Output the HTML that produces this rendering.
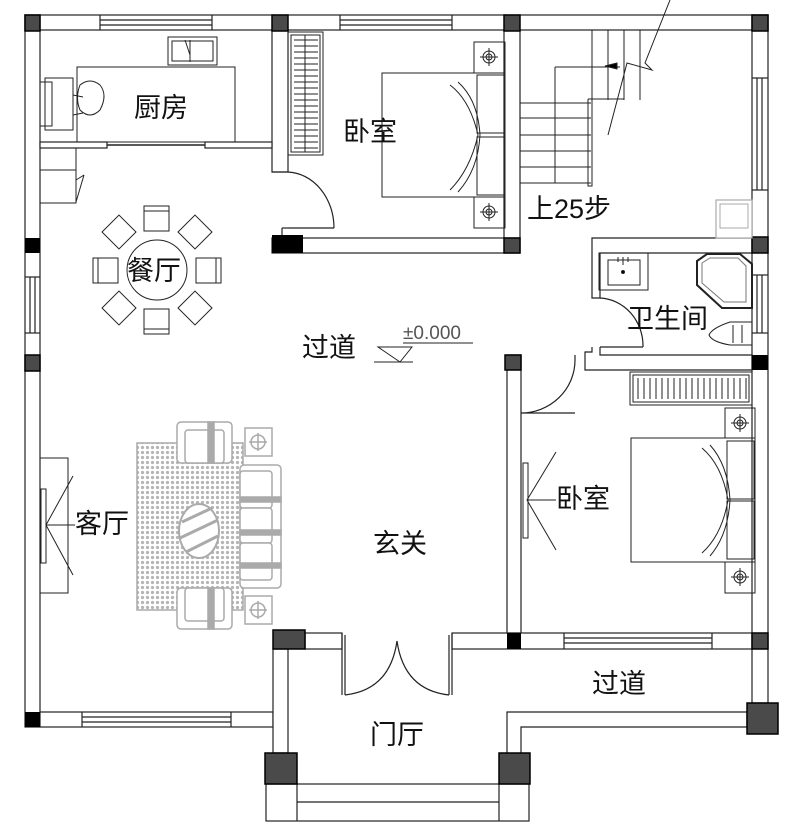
<!DOCTYPE html>
<html><head><meta charset="utf-8"><style>
html,body{margin:0;padding:0;background:#fff;}
svg{display:block;}
text{font-family:"Liberation Sans","Noto Sans CJK SC",sans-serif;fill:#111;}
</style></head><body>
<svg width="789" height="835" viewBox="0 0 789 835" xmlns="http://www.w3.org/2000/svg">
<defs>
<pattern id="dots" width="5" height="5" patternUnits="userSpaceOnUse">
<rect width="5" height="5" fill="#fff"/>
<circle cx="2.5" cy="2.5" r="1.6" fill="#b5b5b5"/>
</pattern>
</defs>
<g fill="none" stroke="#222" stroke-width="1.2">
<rect x="25" y="15" width="743" height="15" fill="#fff"/>
<rect x="25" y="15" width="15" height="712" fill="#fff"/>
<rect x="752" y="15" width="16" height="688" fill="#fff"/>
<rect x="40" y="712" width="233" height="15" fill="#fff"/>
<line x1="100" y1="20" x2="212" y2="20"/><line x1="100" y1="25" x2="212" y2="25"/>
<line x1="100" y1="15" x2="100" y2="30"/><line x1="212" y1="15" x2="212" y2="30"/>
<line x1="340" y1="20" x2="452" y2="20"/><line x1="340" y1="25" x2="452" y2="25"/>
<line x1="340" y1="15" x2="340" y2="30"/><line x1="452" y1="15" x2="452" y2="30"/>
<line x1="757" y1="78" x2="757" y2="190"/><line x1="762" y1="78" x2="762" y2="190"/>
<line x1="752" y1="78" x2="768" y2="78"/><line x1="752" y1="190" x2="768" y2="190"/>
<line x1="757" y1="275" x2="757" y2="333"/><line x1="762" y1="275" x2="762" y2="333"/>
<line x1="752" y1="275" x2="768" y2="275"/><line x1="752" y1="333" x2="768" y2="333"/>
<line x1="30" y1="277" x2="30" y2="333"/><line x1="35" y1="277" x2="35" y2="333"/>
<line x1="25" y1="277" x2="40" y2="277"/><line x1="25" y1="333" x2="40" y2="333"/>
<line x1="82" y1="717" x2="231" y2="717"/><line x1="82" y1="722" x2="231" y2="722"/>
<line x1="82" y1="712" x2="82" y2="727"/><line x1="231" y1="712" x2="231" y2="727"/>

<rect x="272" y="30" width="16" height="142" fill="#fff"/>
<line x1="272" y1="172" x2="288" y2="172"/>
<path d="M288 172 A48 56 0 0 1 334 228"/>
<line x1="288" y1="228" x2="334" y2="228"/><line x1="282" y1="228" x2="288" y2="228"/><line x1="282" y1="228" x2="282" y2="235"/>
<rect x="272" y="238" width="248" height="15" fill="#fff"/>
<rect x="40" y="142" width="67" height="6" fill="#fff"/>
<rect x="205" y="142" width="67" height="6" fill="#fff"/>
<line x1="107" y1="145" x2="205" y2="145" stroke-width="1.6"/>
<rect x="504" y="30" width="16" height="208" fill="#fff"/>

<path d="M592 298 L592 238 L752 238 L752 253 L600 253 L600 298 Z" fill="#fff"/>
<path d="M600 298 A45 48 0 0 1 643 347"/>
<line x1="600" y1="347" x2="643" y2="347"/>
<path d="M592 347 L592 352 L585 352 L585 370 L752 370 L752 355 L600 355 L600 347"/>
<rect x="507" y="355" width="14" height="278" fill="#fff"/>
<path d="M521 413 L575 413 M521 413 A54 53 0 0 0 575 360 L575 355" />
<rect x="305" y="633" width="37" height="16" fill="#fff"/>
<rect x="452" y="633" width="300" height="16" fill="#fff"/>
<line x1="564" y1="638" x2="712" y2="638"/><line x1="564" y1="643" x2="712" y2="643"/>
<line x1="564" y1="633" x2="564" y2="649"/><line x1="712" y1="633" x2="712" y2="649"/>
<line x1="342" y1="633" x2="342" y2="695"/><line x1="345" y1="635" x2="345" y2="695"/>
<line x1="452" y1="633" x2="452" y2="695"/><line x1="449" y1="635" x2="449" y2="695"/>
<path d="M345 695 Q390 690 397 641"/><path d="M449 695 Q404 690 397 641"/>
<rect x="273" y="649" width="15" height="104" fill="#fff"/>
<path d="M507 753 L507 712 L747 712 L747 727 L521 727 L521 753" fill="#fff"/>
<rect x="266" y="784" width="263" height="37" fill="#fff"/>
<line x1="297" y1="802" x2="499" y2="802"/>
<line x1="297" y1="784" x2="297" y2="821"/><line x1="499" y1="784" x2="499" y2="821"/>
</g>

<g fill="#4a4a4a" stroke="#000" stroke-width="1.5">
<rect x="25" y="15" width="15" height="16"/>
<rect x="272" y="15" width="16" height="16"/>
<rect x="504" y="15" width="16" height="16"/>
<rect x="752" y="15" width="16" height="16"/>
<rect x="504" y="238" width="16" height="15"/>
<rect x="752" y="237" width="16" height="16"/>
<rect x="25" y="355" width="15" height="16"/>
<rect x="505" y="355" width="16" height="15"/>
<rect x="273" y="630" width="32" height="19"/>
<rect x="752" y="633" width="16" height="16"/>
<rect x="747" y="703" width="31" height="31"/>
<rect x="265" y="753" width="32" height="31"/>
<rect x="499" y="753" width="31" height="31"/>
</g>
<g fill="#000">
<rect x="25" y="238" width="15" height="15"/>
<rect x="272" y="235" width="31" height="18"/>
<rect x="752" y="355" width="16" height="15"/>
<rect x="507" y="633" width="14" height="16"/>
<rect x="25" y="712" width="15" height="15"/>
</g>

<g fill="none" stroke="#222" stroke-width="1">
<rect x="77" y="67" width="158" height="75"/>
<rect x="168" y="37" width="49" height="28"/><rect x="172" y="41" width="41" height="20"/>
<line x1="185" y1="40" x2="190" y2="55"/><line x1="190" y1="40" x2="190" y2="62"/>
<rect x="45" y="78" width="28" height="52"/><rect x="40" y="82" width="12" height="44"/>
<path d="M80 85 q10-8 20 0 q8 10 0 25 q-10 10 -20 0 q-5-12 0-25z"/>
<path d="M73 95 l10 2 M73 115 l10-2"/>
<rect x="40" y="148" width="36" height="22"/><rect x="40" y="170" width="36" height="33"/>
<line x1="76" y1="180" x2="84" y2="175"/><line x1="84" y1="175" x2="76" y2="202"/>
</g>
<g fill="#fff" stroke="#222" stroke-width="1">
<circle cx="157" cy="270" r="30"/>
<rect x="144" y="206" width="25" height="25"/><line x1="144" y1="211" x2="169" y2="211"/>
<rect x="144" y="309" width="25" height="25"/><line x1="144" y1="329" x2="169" y2="329"/>
<rect x="93" y="258" width="25" height="25"/><line x1="98" y1="258" x2="98" y2="283"/>
<rect x="196" y="258" width="25" height="25"/><line x1="216" y1="258" x2="216" y2="283"/>
<g transform="translate(119,232) rotate(45)"><rect x="-12" y="-12" width="24" height="24"/></g>
<g transform="translate(195,232) rotate(45)"><rect x="-12" y="-12" width="24" height="24"/></g>
<g transform="translate(119,308) rotate(45)"><rect x="-12" y="-12" width="24" height="24"/></g>
<g transform="translate(195,308) rotate(45)"><rect x="-12" y="-12" width="24" height="24"/></g>
</g>
<g fill="none" stroke="#222" stroke-width="1">
<rect x="288" y="32" width="35" height="123"/><rect x="291" y="35" width="29" height="117"/>
<line x1="305" y1="35" x2="305" y2="152"/>
<path d="M294 40H318M294 46H318M294 52H318M294 58H318M294 64H318M294 70H318M294 76H318M294 82H318M294 88H318M294 94H318M294 100H318M294 106H318M294 112H318M294 118H318M294 124H318M294 130H318M294 136H318M294 142H318M294 148H318"/>
<rect x="382" y="73" width="123" height="124"/>
<rect x="477" y="75" width="27" height="58"/><rect x="477" y="137" width="27" height="58"/>
<path d="M450 85 Q470 100 478 135 Q470 170 450 190"/>
<path d="M458 82 Q478 100 480 135 Q478 170 458 192"/>
<rect x="474" y="42" width="31" height="31"/><rect x="474" y="197" width="31" height="31"/>
<circle cx="489" cy="57" r="6"/><circle cx="489" cy="57" r="3"/><path d="M480 57h18M489 48v18"/>
<circle cx="489" cy="212" r="6"/><circle cx="489" cy="212" r="3"/><path d="M480 212h18M489 203v18"/>
</g>
<g fill="none" stroke="#222" stroke-width="1">
<path d="M592 30V100M608 30V100M624 30V100M640 30V100"/>
<path d="M520 103H591M520 118H591M520 135H591M520 151H591M520 167H591M520 183H591"/>
<path d="M555 67V183M555 67H620"/>
<path d="M588 99H624M588 99V186H592V99"/>
<path d="M670 0L645 63L652 70L627 63L608 135"/>
<path d="M605 66l12-3v6z" fill="#000"/>
</g>
<g fill="none" stroke="#222" stroke-width="1">
<rect x="599" y="253" width="49" height="37"/><rect x="608" y="260" width="32" height="25"/>
<circle cx="623" cy="272" r="1.5" fill="#000"/><path d="M618 257v5M623 257v8M628 257v5"/>
<path d="M697 261L707 254H740L752 264V308H722L697 285Z" stroke-width="2"/>
<path d="M702 263L710 258H738L746 266V302H724L702 283Z" stroke="#777"/>
<path d="M752 322H730Q712 328 709 335Q712 342 730 345H752"/>
<path d="M733 325V343M742 325V343"/>
</g>
<rect x="716" y="200" width="36" height="38" fill="#fff" stroke="#aaa" stroke-width="1.2"/>
<rect x="720" y="204" width="28" height="24" fill="none" stroke="#aaa"/>
<g fill="none" stroke="#222" stroke-width="1">
<rect x="630" y="372" width="122" height="33"/><rect x="633" y="375" width="116" height="27"/>
<path d="M638 378V399M644 378V399M650 378V399M656 378V399M662 378V399M668 378V399M674 378V399M680 378V399M686 378V399M692 378V399M698 378V399M704 378V399M710 378V399M716 378V399M722 378V399M728 378V399M734 378V399M740 378V399M746 378V399"/>
<rect x="631" y="438" width="124" height="124"/>
<rect x="727" y="441" width="27" height="58"/><rect x="727" y="501" width="27" height="58"/>
<path d="M702 448 Q722 465 728 500 Q722 535 702 553"/>
<path d="M710 445 Q728 465 730 500 Q728 535 710 556"/>
<rect x="725" y="408" width="30" height="30"/><rect x="725" y="562" width="30" height="31"/>
<circle cx="740" cy="423" r="6"/><circle cx="740" cy="423" r="3"/><path d="M731 423h18M740 414v18"/>
<circle cx="740" cy="577" r="6"/><circle cx="740" cy="577" r="3"/><path d="M731 577h18M740 568v18"/>
<rect x="523" y="463" width="5" height="75"/>
<path d="M556 452L527 500L556 550M528 500H556"/>
<rect x="40" y="458" width="28" height="135"/><rect x="41" y="489" width="5" height="74"/>
<path d="M73 476L46 525L73 575M46 525H75"/>
</g>
<g stroke="#aaa" stroke-width="1.5" fill="#fff">
<rect x="137" y="443" width="106" height="167" fill="url(#dots)"/>
<rect x="177" y="422" width="55" height="41" rx="4"/><rect x="185" y="430" width="39" height="33" rx="3"/>
<rect x="208" y="422" width="6" height="41" fill="#aaa"/>
<rect x="177" y="588" width="55" height="41" rx="4"/><rect x="185" y="588" width="39" height="33" rx="3"/>
<rect x="208" y="588" width="6" height="41" fill="#aaa"/>
<rect x="240" y="465" width="41" height="123" rx="4"/>
<rect x="240" y="471" width="32" height="37" rx="3"/><rect x="240" y="508" width="32" height="35" rx="3"/><rect x="240" y="543" width="32" height="37" rx="3"/>
<rect x="240" y="497" width="41" height="5" fill="#aaa"/><rect x="240" y="530" width="41" height="5" fill="#aaa"/><rect x="240" y="563" width="41" height="5" fill="#aaa"/>
<rect x="245" y="428" width="27" height="28"/><circle cx="258" cy="442" r="7" fill="none"/><path d="M249 442h18M258 433v18" fill="none"/>
<rect x="245" y="596" width="27" height="28"/><circle cx="258" cy="610" r="7" fill="none"/><path d="M249 610h18M258 601v18" fill="none"/>
<ellipse cx="199" cy="531" rx="20" ry="27" stroke-width="2"/>
<path d="M182 522L212 508M180 538L218 520M186 552L218 536" stroke-width="3" fill="none"/>
</g>
<g fill="none" stroke="#222" stroke-width="1">
<path d="M378 347L400 362L412 347ZM374 362H413"/>
<line x1="403" y1="343" x2="473" y2="343"/>
</g>
<text x="403" y="339" font-size="19" style="fill:#555">±0.000</text>
<g font-size="27">
<text x="134" y="117">厨房</text>
<text x="343" y="141">卧室</text>
<text x="127" y="280">餐厅</text>
<text x="527" y="218">上25步</text>
<text x="627" y="328">卫生间</text>
<text x="302" y="357">过道</text>
<text x="75" y="533">客厅</text>
<text x="373" y="553">玄关</text>
<text x="556" y="508">卧室</text>
<text x="592" y="693">过道</text>
<text x="370" y="744">门厅</text>
</g>
</svg>
</body></html>
